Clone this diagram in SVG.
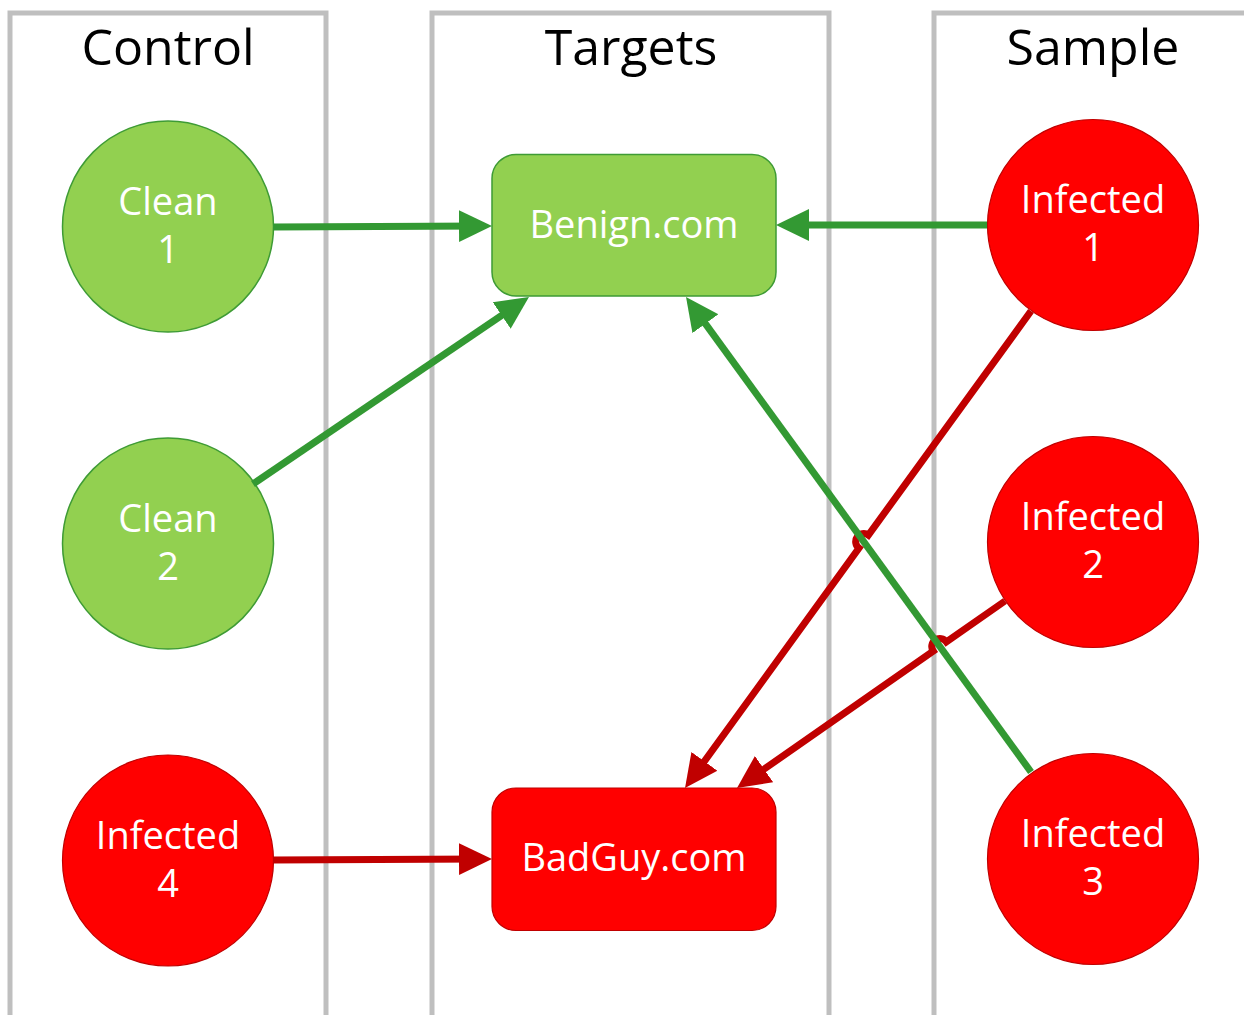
<svg xmlns="http://www.w3.org/2000/svg" width="1244" height="1015" viewBox="0 0 1244 1015">
  <style>
    .lane { fill: none; stroke: #bfbfbf; stroke-width: 5; }
    .title { font-family: "Open Sans", "Noto Sans", sans-serif; font-size: 50px; fill: #000000; text-anchor: middle; }
    .lbl { font-family: "Open Sans", "Noto Sans", sans-serif; font-size: 38px; fill: #ffffff; text-anchor: middle; }
    .green { fill: #92d050; stroke: #3e9b35; stroke-width: 1.5; }
    .red { fill: #ff0000; stroke: #c00000; stroke-width: 1.2; }
    .cg { fill: none; stroke: #339933; stroke-width: 7; }
    .cr { fill: none; stroke: #c00000; stroke-width: 7; }
  </style>
  <defs>
    <marker id="ag" markerUnits="userSpaceOnUse" markerWidth="34" markerHeight="34" refX="23" refY="16" orient="auto" viewBox="0 0 34 32">
      <path d="M0,0 L33,16 L0,32 z" fill="#339933"/>
    </marker>
    <marker id="ar" markerUnits="userSpaceOnUse" markerWidth="34" markerHeight="34" refX="23" refY="16" orient="auto" viewBox="0 0 34 32">
      <path d="M0,0 L33,16 L0,32 z" fill="#c00000"/>
    </marker>
  </defs>

  <g id="lanes">
    <g id="lane-control">
      <path class="lane" d="M10,1020 V13 H326 V1020"/>
      <text class="title" x="168" y="65">Control</text>
    </g>
    <g id="lane-targets">
      <path class="lane" d="M432,1020 V13 H829 V1020"/>
      <text class="title" x="631" y="65">Targets</text>
    </g>
    <g id="lane-sample">
      <path class="lane" d="M934,1020 V13 H1250 V1020"/>
      <text class="title" x="1093" y="65">Sample</text>
    </g>
  </g>

  <g id="nodes">
    <g id="clean1">
      <circle class="green" cx="168" cy="226.5" r="105.5"/>
      <text class="lbl" x="168" y="215">Clean</text>
      <text class="lbl" x="168" y="263">1</text>
    </g>
    <g id="clean2">
      <circle class="green" cx="168" cy="543.5" r="105.5"/>
      <text class="lbl" x="168" y="532">Clean</text>
      <text class="lbl" x="168" y="580">2</text>
    </g>
    <g id="infected4">
      <circle class="red" cx="168" cy="860.5" r="105.5"/>
      <text class="lbl" x="168" y="849">Infected</text>
      <text class="lbl" x="168" y="897">4</text>
    </g>
    <g id="benign">
      <rect class="green" x="492" y="154.5" width="284" height="141.5" rx="24"/>
      <text class="lbl" x="634" y="238">Benign.com</text>
    </g>
    <g id="badguy">
      <rect class="red" x="492" y="788" width="284" height="142.5" rx="24"/>
      <text class="lbl" x="634" y="871">BadGuy.com</text>
    </g>
    <g id="infected1">
      <circle class="red" cx="1093" cy="225" r="105.5"/>
      <text class="lbl" x="1093" y="213">Infected</text>
      <text class="lbl" x="1093" y="261">1</text>
    </g>
    <g id="infected2">
      <circle class="red" cx="1093" cy="542" r="105.5"/>
      <text class="lbl" x="1093" y="530">Infected</text>
      <text class="lbl" x="1093" y="578">2</text>
    </g>
    <g id="infected3">
      <circle class="red" cx="1093" cy="859" r="105.5"/>
      <text class="lbl" x="1093" y="847">Infected</text>
      <text class="lbl" x="1093" y="895">3</text>
    </g>
  </g>

  <g id="connectors">
    <path class="cr" marker-end="url(#ar)" d="M273,860 L482,859"/>
    <path class="cr" marker-end="url(#ar)" d="M1031,311 L868.4,535.1 A8,8 0 0 0 859.0,548.1 L690.9,779.9"/>
    <path class="cr" marker-end="url(#ar)" d="M1005,601 L946.4,641.9 A8,8 0 0 0 933.2,651.1 L745.2,782.3"/>
    <path class="cg" marker-end="url(#ag)" d="M273,227 L482,226"/>
    <path class="cg" marker-end="url(#ag)" d="M253,484 L520.7,302.6"/>
    <path class="cg" marker-end="url(#ag)" d="M987,225 L786,225"/>
    <path class="cg" marker-end="url(#ag)" d="M1031,772 L691.9,305.1"/>
  </g>
</svg>
